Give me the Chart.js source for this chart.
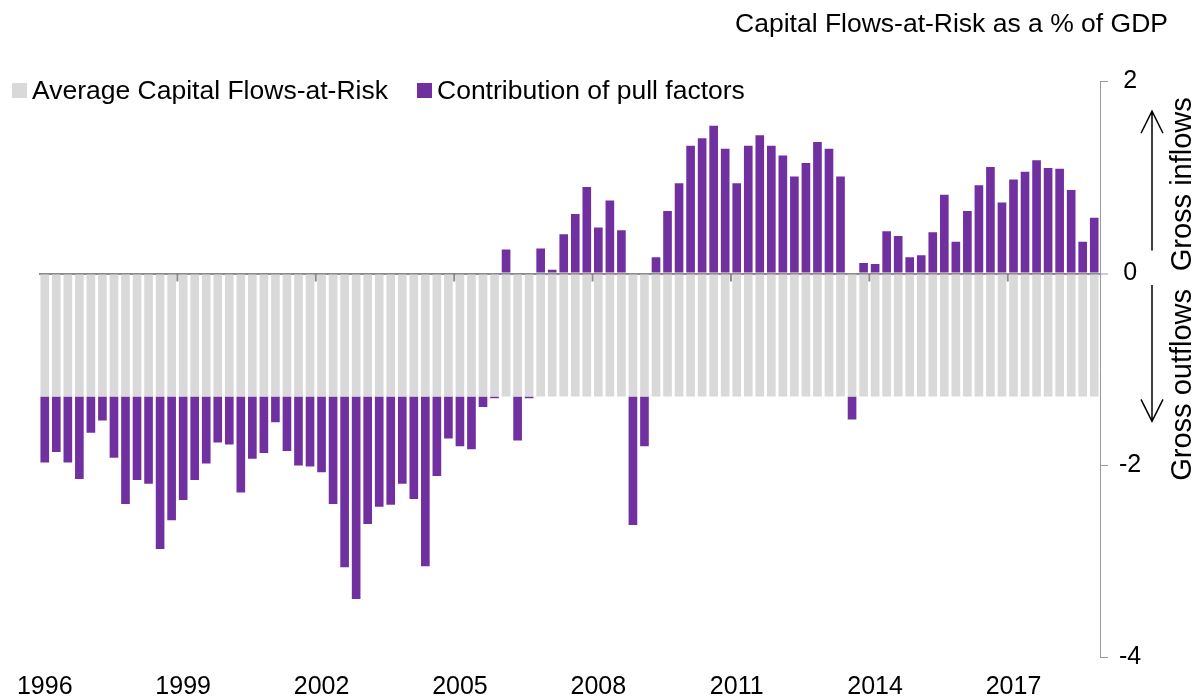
<!DOCTYPE html>
<html>
<head>
<meta charset="utf-8">
<title>Capital Flows-at-Risk</title>
<script src="https://cdn.jsdelivr.net/npm/chart.js@4.4.1/dist/chart.umd.min.js"></script>
<style>
  html, body { margin: 0; padding: 0; background: #fff; }
  #wrap { position: relative; width: 1194px; height: 700px; font-family: "Liberation Sans", Arial, sans-serif; }
  .lg { position: absolute; top: 75px; height: 30px; line-height: 30px; font-size: 26.5px; color: #000; white-space: nowrap; }
  .lg i { position: absolute; left: 0; top: 8px; width: 15px; height: 15px; }
  .lg span { position: absolute; left: 20px; top: 0; }
</style>
</head>
<body>
<div id="wrap">
  <canvas id="chart" width="1194" height="700"></canvas>
  <div class="lg" style="left:12px"><i style="background:#D9D9D9"></i><span>Average Capital Flows-at-Risk</span></div>
  <div class="lg" style="left:417px"><i style="background:#7030A0"></i><span>Contribution of pull factors</span></div>
</div>
<script>
  // ---- data ----
  const years = [1996, 1997, 1998, 1999, 2000, 2001, 2002, 2003, 2004, 2005, 2006, 2007,
                 2008, 2009, 2010, 2011, 2012, 2013, 2014, 2015, 2016, 2017, 2018];
  const quarters = ["Q1", "Q2", "Q3", "Q4"];
  const tickYears = [1996, 1999, 2002, 2005, 2008, 2011, 2014, 2017];

  // average Capital Flows-at-Risk, % of GDP (grey)
  const avgFlowsAtRisk = [
    -1.28, -1.28, -1.28, -1.28, -1.28, -1.28, -1.28, -1.28, -1.28, -1.28, -1.28, -1.28,
    -1.28, -1.28, -1.28, -1.28, -1.28, -1.28, -1.28, -1.28, -1.28, -1.28, -1.28, -1.28,
    -1.28, -1.28, -1.28, -1.28, -1.28, -1.28, -1.28, -1.28, -1.28, -1.28, -1.28, -1.28,
    -1.28, -1.28, -1.28, -1.28, -1.28, -1.28, -1.28, -1.28, -1.28, -1.28, -1.28, -1.28,
    -1.28, -1.28, -1.28, -1.28, -1.28, -1.28, -1.28, -1.28, -1.28, -1.28, -1.28, -1.28,
    -1.28, -1.28, -1.28, -1.28, -1.28, -1.28, -1.28, -1.28, -1.28, -1.28, -1.28, -1.28,
    -1.28, -1.28, -1.28, -1.28, -1.28, -1.28, -1.28, -1.28, -1.28, -1.28, -1.28, -1.28,
    -1.28, -1.28, -1.28, -1.28, -1.28, -1.28, -1.28, -1.28
  ];

  // contribution of pull factors (purple), one value per quarter
  const pullFactors = [
    -0.69, -0.58, -0.69, -0.86, -0.38, -0.25, -0.64, -1.12, -0.87, -0.91, -1.59, -1.29,
    -1.08, -0.87, -0.70, -0.48, -0.50, -1.00, -0.65, -0.59, -0.27, -0.57, -0.72, -0.73,
    -0.79, -1.12, -1.78, -2.11, -1.33, -1.15, -1.13, -0.91, -1.07, -1.77, -0.83, -0.44,
    -0.52, -0.55, -0.11, -0.02,  0.25, -0.46, -0.02,  0.26,  0.04,  0.41,  0.62,  0.90,
     0.48,  0.76,  0.45, -1.34, -0.52,  0.17,  0.65,  0.94,  1.33,  1.41,  1.54,  1.30,
     0.94,  1.33,  1.44,  1.33,  1.23,  1.01,  1.15,  1.37,  1.30,  1.01, -0.24,  0.11,
     0.10,  0.44,  0.39,  0.17,  0.19,  0.43,  0.82,  0.33,  0.65,  0.92,  1.11,  0.74,
     0.98,  1.06,  1.18,  1.10,  1.09,  0.87,  0.33,  0.58
  ];

  const categories = years.flatMap(y => quarters.map(q => y + q));

  const FONT = '"Liberation Sans", Arial, sans-serif';
  const AXIS_GREY = "#8c8c8c";
  Chart.defaults.font.family = FONT;
  Chart.defaults.color = "#000";

  // small downward ticks on the zero line at every labelled year boundary
  const zeroLineTicks = {
    id: "zeroLineTicks",
    afterDraw(chart) {
      const { ctx, scales: { x, y } } = chart;
      const y0 = y.getPixelForValue(0);
      ctx.save();
      ctx.strokeStyle = AXIS_GREY;
      ctx.lineWidth = 2;
      tickYears.slice(1).forEach(yr => {
        const idx = categories.indexOf(yr + "Q1");
        const px = (x.getPixelForValue(idx - 1) + x.getPixelForValue(idx)) / 2;
        ctx.beginPath();
        ctx.moveTo(px, y0);
        ctx.lineTo(px, y0 + 8);
        ctx.stroke();
      });
      ctx.restore();
    }
  };

  function arrow(ctx, x, yFrom, yTo) {
    const dir = yTo < yFrom ? 1 : -1;
    ctx.beginPath();
    ctx.moveTo(x, yFrom);
    ctx.lineTo(x, yTo);
    ctx.moveTo(x - 11, yTo + dir * 22);
    ctx.lineTo(x, yTo);
    ctx.lineTo(x + 11, yTo + dir * 22);
    ctx.stroke();
  }

  // "Gross inflows / Gross outflows" notes right of the axis
  const sideNotes = {
    id: "sideNotes",
    afterDraw(chart) {
      const { ctx, scales: { y } } = chart;
      ctx.save();
      ctx.strokeStyle = "#000";
      ctx.lineWidth = 1.5;
      arrow(ctx, 1152, y.getPixelForValue(0.24), y.getPixelForValue(1.69));
      arrow(ctx, 1152, y.getPixelForValue(-0.12), y.getPixelForValue(-1.54));
      ctx.fillStyle = "#000";
      ctx.font = "29px " + FONT;
      ctx.textAlign = "center";
      ctx.textBaseline = "middle";
      [["Gross inflows", 0.93], ["Gross outflows", -1.16]].forEach(([txt, v]) => {
        ctx.save();
        ctx.translate(1183, y.getPixelForValue(v));
        ctx.rotate(-Math.PI / 2);
        ctx.fillText(txt, 0, 0);
        ctx.restore();
      });
      ctx.restore();
    }
  };

  new Chart(document.getElementById("chart"), {
    type: "bar",
    data: {
      labels: categories,
      datasets: [
        { label: "Average Capital Flows-at-Risk", data: avgFlowsAtRisk, backgroundColor: "#D9D9D9",
          barPercentage: 0.75, categoryPercentage: 1 },
        { label: "Contribution of pull factors", data: pullFactors, backgroundColor: "#7030A0",
          barPercentage: 0.75, categoryPercentage: 1 }
      ]
    },
    options: {
      responsive: false,
      animation: false,
      layout: { padding: { left: 39, right: 26, top: 0, bottom: 0 } },
      plugins: {
        legend: { display: false },
        tooltip: { enabled: false },
        title: {
          display: true,
          text: "Capital Flows-at-Risk as a % of GDP",
          align: "end",
          color: "#000",
          font: { size: 26.5, weight: "normal", lineHeight: 1.2 },
          padding: { top: 9, bottom: 40.7 }
        }
      },
      scales: {
        x: {
          stacked: true,
          grid: { display: false, drawTicks: false },
          border: { display: false },
          ticks: {
            autoSkip: false, maxRotation: 0, minRotation: 0, padding: 15,
            font: { size: 25 }, color: "#000",
            callback(val) {
              const lab = this.getLabelForValue(val);
              const yr = parseInt(lab, 10);
              return lab.endsWith("Q1") && tickYears.includes(yr) ? String(yr) : "";
            }
          },
          afterFit(s) { s.height = 42.5; }
        },
        y: {
          stacked: true,
          position: "right",
          min: -4, max: 2,
          z: 2,
          ticks: { stepSize: 2, font: { size: 25 }, color: "#000", padding: 11, crossAlign: "center" },
          grid: {
            drawOnChartArea: true,
            color: c => (c.tick && c.tick.value === 0 ? AXIS_GREY : "rgba(0,0,0,0)"),
            lineWidth: c => (c.tick && c.tick.value === 0 ? 2 : 1),
            tickColor: "#999",
            tickWidth: 1,
            tickLength: 8
          },
          border: { color: "#999", width: 1 },
          afterFit(s) { s.width = 68; }
        }
      }
    },
    plugins: [zeroLineTicks, sideNotes]
  });
</script>
</body>
</html>
